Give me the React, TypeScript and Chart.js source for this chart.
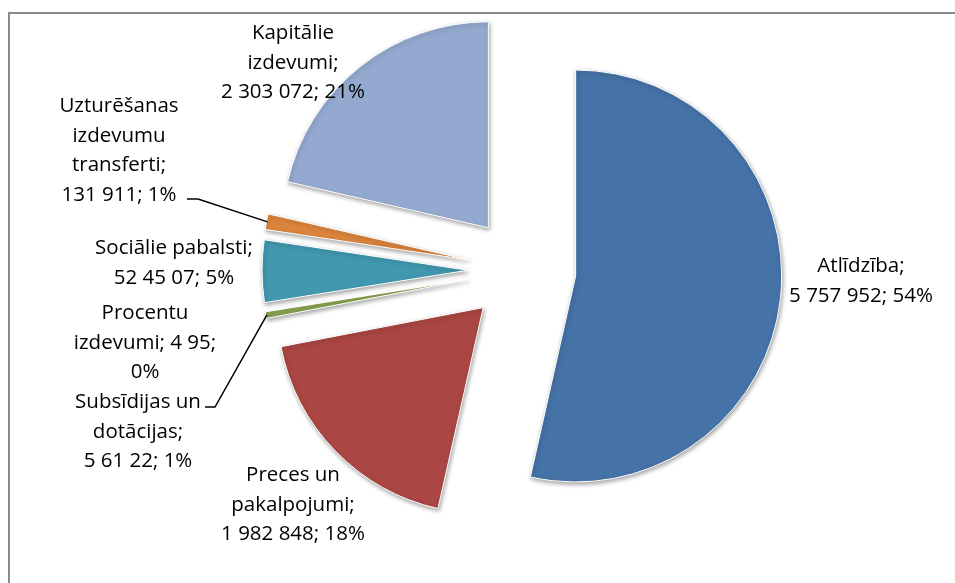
import React, { useEffect, useRef } from 'react';
import { Chart, registerables } from 'chart.js';

Chart.register(...registerables);

// ---- data ----
const categories = [
  'Atlīdzība',
  'Preces un pakalpojumi',
  'Subsīdijas un dotācijas',
  'Procentu izdevumi',
  'Sociālie pabalsti',
  'Uzturēšanas izdevumu transferti',
  'Kapitālie izdevumi',
];
const values = [5757952, 1982848, 56122, 495, 524507, 131911, 2303072];
const valueLabels = ['5 757 952', '1 982 848', '5 61 22', '4 95', '52 45 07', '131 911', '2 303 072'];

// ---- style / layout ----
const colors = ['#4572A7', '#AA4643', '#89A54E', '#71588F', '#4198AF', '#DB843D', '#93A9CF'];
const lineWordCounts = [[1, 4], [2, 1, 4], [2, 1, 4], [1, 3, 1], [2, 4], [1, 1, 1, 3], [1, 1, 4]];
const W = 955;
const H = 583;
const CX = 522;
const CY = 270;
const RADIUS = 206;
const EXPLODE = 54;
const LABEL_POS: [number, number][] = [
  [861, 272],
  [293, 481],
  [138, 408],
  [145, 319],
  [174, 254],
  [119, 112],
  [293, 39],
];
const LINE_H = 29.7;
const FONT = '20.5px "Open Sans"';
const LEADERS: Record<number, [number, number][]> = {
  5: [[187, 199], [198, 199]],
  2: [[205, 407], [215, 407]],
};

const framePlugin = {
  id: 'frame',
  beforeDraw(chart: any) {
    const ctx = chart.ctx;
    ctx.save();
    ctx.fillStyle = '#fff';
    ctx.fillRect(0, 0, chart.width, chart.height);
    ctx.strokeStyle = '#8a8a8a';
    ctx.lineWidth = 2;
    ctx.beginPath();
    ctx.moveTo(9, chart.height + 5);
    ctx.lineTo(9, 13);
    ctx.lineTo(chart.width + 5, 13);
    ctx.stroke();
    ctx.restore();
  },
};

const explodePlugin = {
  id: 'explode',
  beforeDatasetDraw(chart: any, args: any) {
    const ctx = chart.ctx;
    const arcs = args.meta.data;
    arcs.forEach((arc: any) => {
      const mid = (arc.startAngle + arc.endAngle) / 2;
      ctx.save();
      ctx.translate(Math.cos(mid) * EXPLODE, Math.sin(mid) * EXPLODE);
      if (arc.endAngle - arc.startAngle > 0.005) {
        ctx.shadowColor = 'rgba(0,0,0,0.35)';
        ctx.shadowBlur = 4;
        ctx.shadowOffsetX = 1;
        ctx.shadowOffsetY = 2;
      }
      arc.draw(ctx, chart.chartArea);
      ctx.restore();
    });
    return false;
  },
};

const labelPlugin = {
  id: 'sliceLabels',
  afterDatasetsDraw(chart: any) {
    const ctx = chart.ctx;
    const meta = chart.getDatasetMeta(0);
    const total = values.reduce((a, b) => a + b, 0);
    ctx.save();
    ctx.font = FONT;
    ctx.fillStyle = '#000';
    ctx.textAlign = 'center';
    ctx.textBaseline = 'alphabetic';
    categories.forEach((cat, i) => {
      const pct = Math.round((values[i] / total) * 100);
      const words = `${cat}; ${valueLabels[i]}; ${pct}%`.split(' ');
      let k = 0;
      const [x, y] = LABEL_POS[i];
      lineWordCounts[i].forEach((n, li) => {
        const line = words.slice(k, k + n).join(' ');
        k += n;
        ctx.fillText(line, x, y + li * LINE_H);
      });
    });
    ctx.strokeStyle = '#000';
    ctx.lineWidth = 1.5;
    Object.keys(LEADERS).forEach((key) => {
      const i = Number(key);
      const arc: any = meta.data[i];
      const mid = (arc.startAngle + arc.endAngle) / 2;
      const r = EXPLODE + arc.outerRadius - 1;
      const px = arc.x + Math.cos(mid) * r;
      const py = arc.y + Math.sin(mid) * r;
      const pts = LEADERS[i];
      ctx.beginPath();
      ctx.moveTo(pts[0][0], pts[0][1]);
      for (let j = 1; j < pts.length; j++) ctx.lineTo(pts[j][0], pts[j][1]);
      ctx.lineTo(px, py);
      ctx.stroke();
    });
    ctx.restore();
  },
};

export default function App() {
  const ref = useRef<HTMLCanvasElement | null>(null);
  useEffect(() => {
    if (!ref.current) return;
    const chart = new Chart(ref.current, {
      type: 'pie',
      data: {
        labels: categories,
        datasets: [
          {
            data: values,
            backgroundColor: colors,
            borderColor: '#ffffff',
            borderWidth: 1,
            radius: RADIUS,
          } as any,
        ],
      },
      options: {
        responsive: false,
        animation: false,
        layout: { padding: { left: 2 * CX - W, right: 0, top: 0, bottom: H - 2 * CY } },
        plugins: { legend: { display: false }, tooltip: { enabled: false } },
      },
      plugins: [framePlugin, explodePlugin, labelPlugin],
    });
    return () => chart.destroy();
  }, []);
  return (
    <div style={{ position: 'absolute', left: 0, top: 0, width: W, height: H, background: '#fff' }}>
      <canvas ref={ref} width={W} height={H} style={{ display: 'block', width: W, height: H }} />
    </div>
  );
}
